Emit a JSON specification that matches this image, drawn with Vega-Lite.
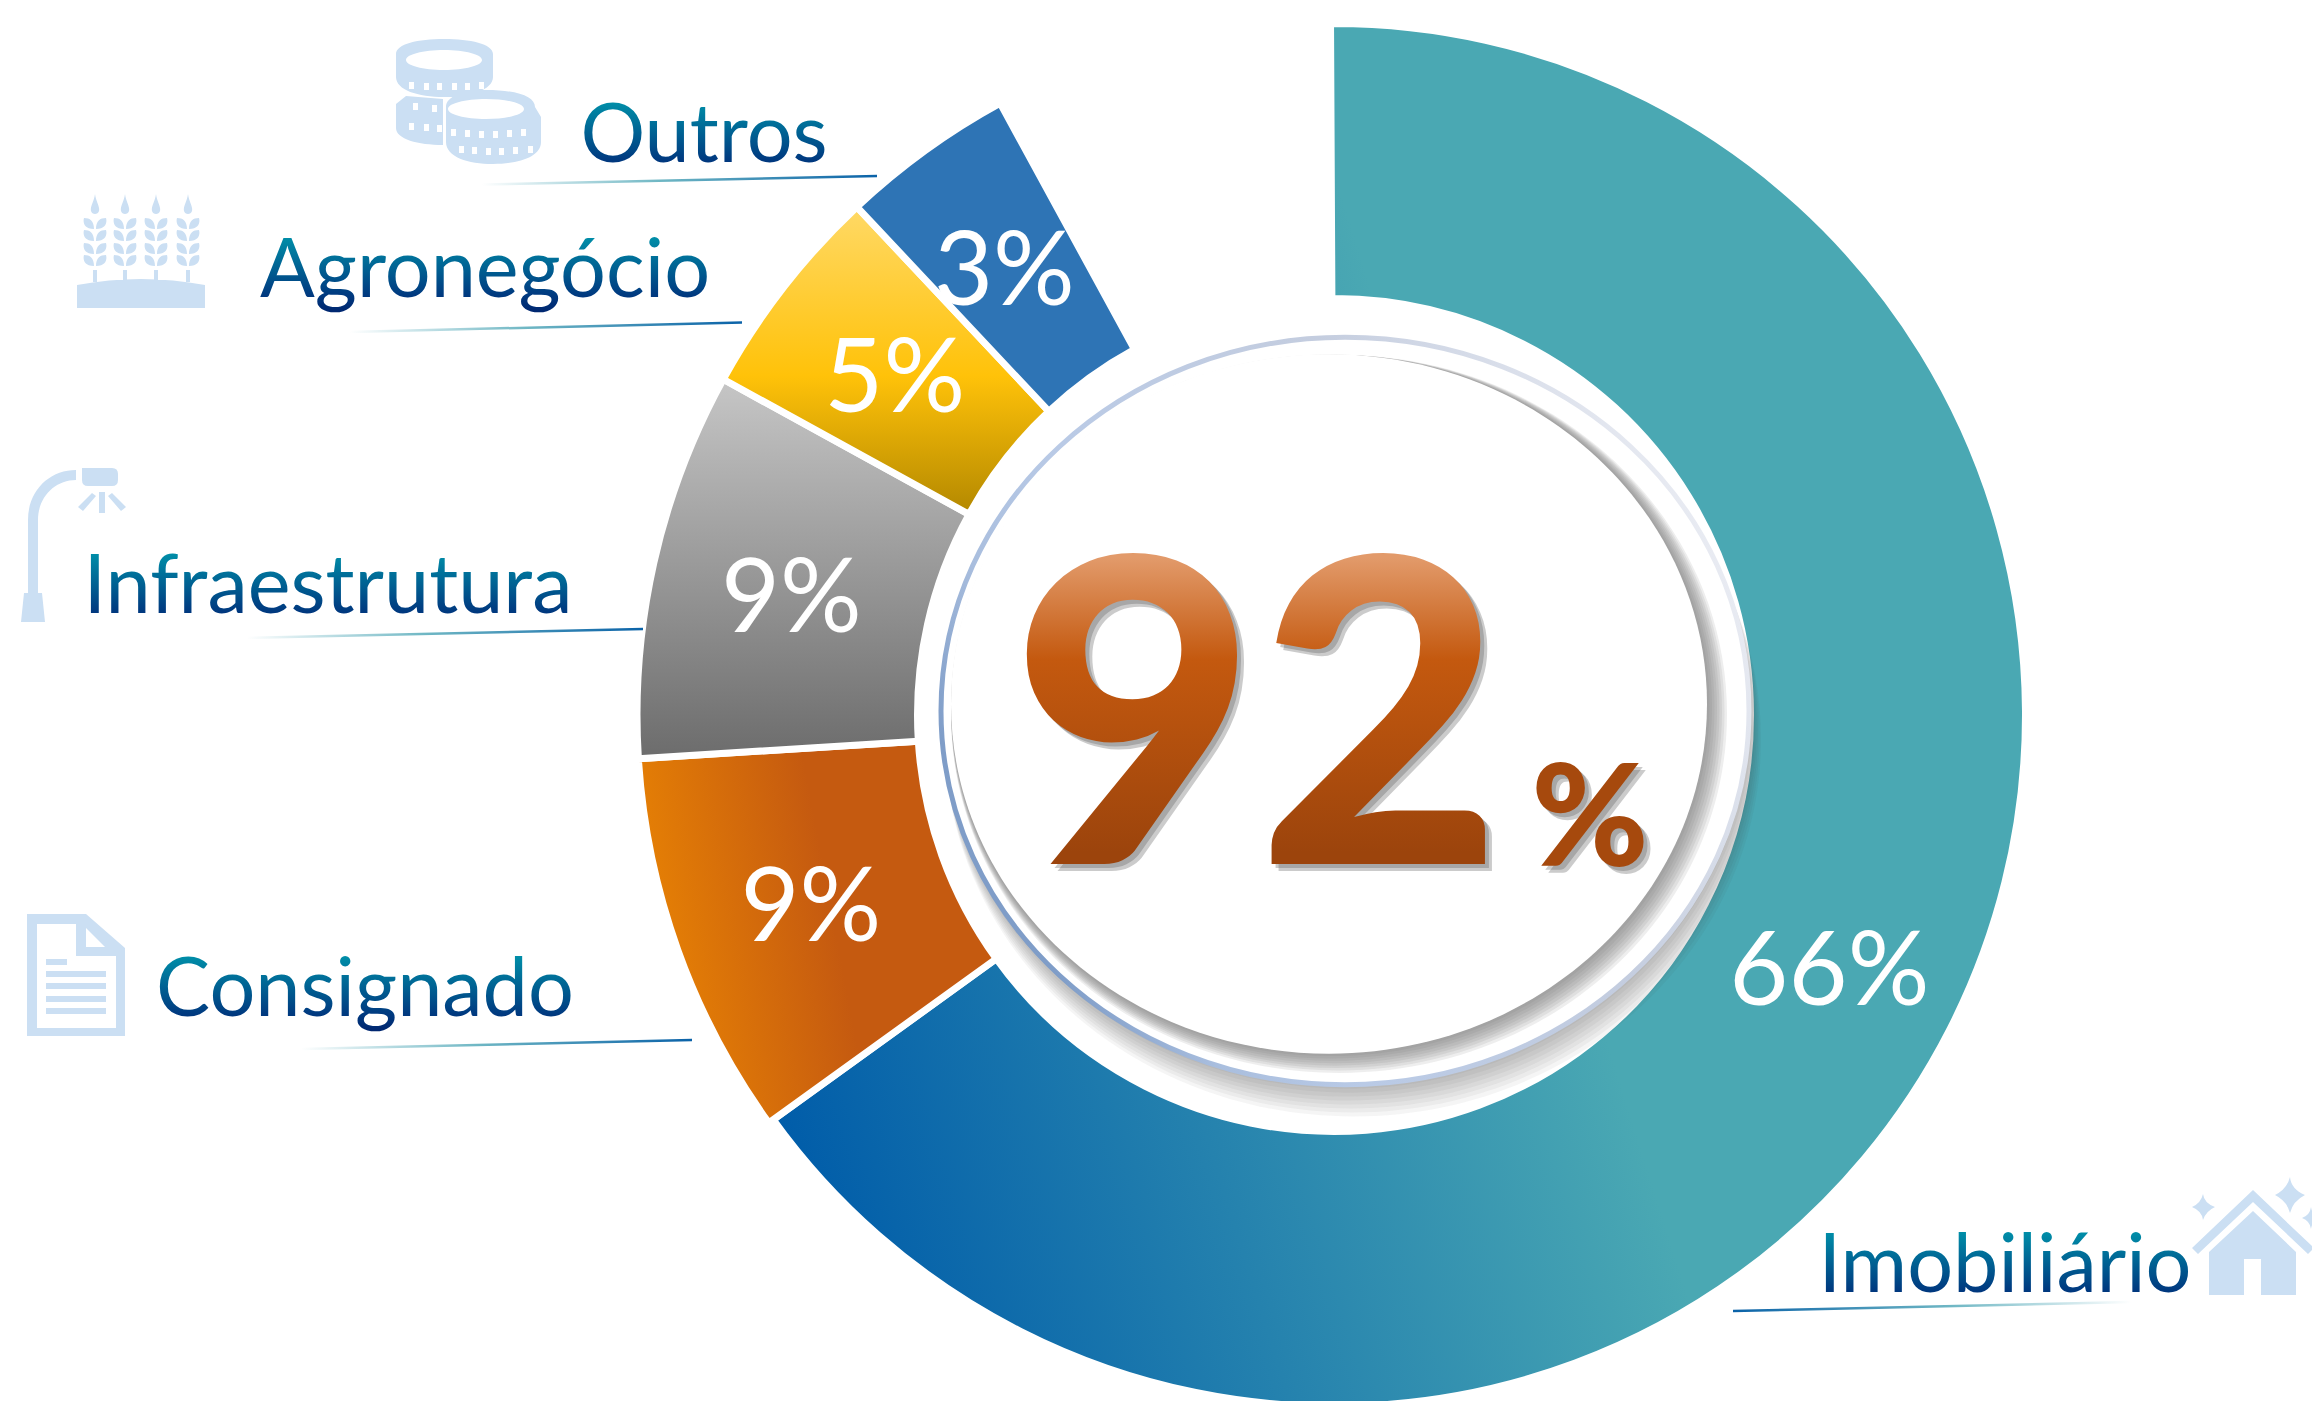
{
"$schema":"https://vega.github.io/schema/vega-lite/v6.json",
"autosize":{"type":"none"},
"width":1956,"height":1372,
"padding":{"left":356,"top":29,"right":0,"bottom":0},
"background":"white",
"view":{"stroke":null},
"datasets":{
"segments":[
{"category":"Imobiliário","label":"66%","order":5,"start":-0.08,"end":65.05,"mid":32.5},
{"category":"Consignado","label":"9%","order":4,"start":65.05,"end":74,"mid":69.5},
{"category":"Infraestrutura","label":"9%","order":3,"start":74,"end":83,"mid":78.5},
{"category":"Agronegócio","label":"5%","order":2,"start":83,"end":88,"mid":85.5},
{"category":"Outros","label":"3%","order":1,"start":88,"end":92.05,"mid":89.9}
],
"discs":[{"step":1},{"step":2},{"step":3},{"step":4},{"step":5},{"step":6},{"step":7},{"step":8},{"step":9},{"step":10},{"step":11},{"step":12},{"step":13},{"step":14},{"step":15},{"step":16},{"step":17},{"step":18}],
"total":[{"label":"92","slot":1},{"label":"%","slot":2}],
"leaders":[
{"category":"Outros","from":1,"to":11},
{"category":"Agronegócio","from":2,"to":12},
{"category":"Infraestrutura","from":3,"to":13},
{"category":"Consignado","from":4,"to":14}
],
"leaderRight":[{"category":"Imobiliário","from":5,"to":15}]
},
"layer":[
{"data":{"name":"segments"},
"encoding":{"theta":{"field":"start","type":"quantitative","scale":{"domain":[0,100],"range":[0,6.283185]}},"theta2":{"field":"end"}},
"layer":[
{"transform":[{"filter":"datum.order==5"}],"mark":{"type":"arc","innerRadius":416.5,"outerRadius":691.5,"stroke":"white","strokeWidth":7,"fill":{"gradient":"linear","x1":0,"y1":0.798,"x2":0.614,"y2":0.585,"stops":[{"offset":0,"color":"#005ca9"},{"offset":1,"color":"#4aa8b3"}]}}},
{"transform":[{"filter":"datum.order==4"}],"mark":{"type":"arc","innerRadius":416.5,"outerRadius":697,"stroke":"white","strokeWidth":7,"fill":{"gradient":"linear","x1":0,"y1":0.6,"x2":1,"y2":0.4,"stops":[{"offset":0,"color":"#ea8503"},{"offset":0.55,"color":"#c55a10"},{"offset":1,"color":"#c55a10"}]}}},
{"transform":[{"filter":"datum.order==3"}],"mark":{"type":"arc","innerRadius":416.5,"outerRadius":697,"stroke":"white","strokeWidth":7,"fill":{"gradient":"linear","x1":0,"y1":0,"x2":0,"y2":1,"stops":[{"offset":0,"color":"#c6c6c6"},{"offset":1,"color":"#6c6c6c"}]}}},
{"transform":[{"filter":"datum.order==2"}],"mark":{"type":"arc","innerRadius":416.5,"outerRadius":697,"stroke":"white","strokeWidth":7,"fill":{"gradient":"linear","x1":0,"y1":0,"x2":0,"y2":1,"stops":[{"offset":0,"color":"#ffd966"},{"offset":0.55,"color":"#ffc209"},{"offset":1,"color":"#b38800"}]}}},
{"transform":[{"filter":"datum.order==1"}],"mark":{"type":"arc","innerRadius":416.5,"outerRadius":697,"stroke":"white","strokeWidth":7,"fill":"#2e74b5"}}
]},
{"data":{"name":"segments"},"mark":{"type":"text","radius":556,"dy":7,"font":"Lato","fontWeight":400,"fontSize":102,"fill":"white","align":"center","baseline":"middle"},
"encoding":{"theta":{"field":"mid","type":"quantitative","scale":{"domain":[0,100],"range":[0,6.283185]}},"text":{"field":"label"}}},
{"data":{"name":"discs"},
"encoding":{
"x":{"field":"step","type":"quantitative","axis":null,"scale":{"domain":[1,2,3,4,5,6,7,8,9,10,11,12,13,14,15,16,17,18],"range":[997,996,995,994,993,992,991,990,989,983,981.75,980.5,979.25,978,976.75,975.5,974.25,973]}},
"y":{"field":"step","type":"quantitative","axis":null,"scale":{"domain":[1,2,3,4,5,6,7,8,9,10,11,12,13,14,15,16,17,18],"range":[710,706.5,703,699.5,696,692.5,689,685.5,682,685,683.75,682.5,681.25,680,678.75,677.5,676.25,675]}},
"size":{"field":"step","type":"quantitative","legend":null,"scale":{"domain":[1,2,3,4,5,6,7,8,9,10,11,12,13,14,15,16,17,18],"range":[665856,664225,662596,660969,659344,657721,656100,654481,652864,602176,598302,594441,590593,586756,582932,579121,575325,571536]}}
},
"layer":[
{"transform":[{"filter":"datum.step<=8"}],"mark":{"type":"point","filled":true,"shape":"M-1,0A1,0.925,0,1,1,1,0A1,0.925,0,1,1,-1,0Z","fill":"#444444","opacity":0.05}},
{"transform":[{"filter":"datum.step==9"}],"mark":{"type":"point","filled":true,"shape":"M-1,0A1,0.925,0,1,1,1,0A1,0.925,0,1,1,-1,0Z","fill":"white","opacity":1,"strokeWidth":5,"stroke":{"gradient":"linear","x1":1,"y1":0.3,"x2":0,"y2":0.75,"stops":[{"offset":0,"color":"#eceef4"},{"offset":0.33,"color":"#c4cddf"},{"offset":0.66,"color":"#b9cae6"},{"offset":0.8,"color":"#a9bede"},{"offset":0.92,"color":"#7f9dc8"},{"offset":1,"color":"#7f9dc8"}]}}},
{"transform":[{"filter":"datum.step>=10 && datum.step<=17"}],"mark":{"type":"point","filled":true,"shape":"M-1,0A1,0.925,0,1,1,1,0A1,0.925,0,1,1,-1,0Z","fill":"#777777","opacity":0.12}},
{"transform":[{"filter":"datum.step==18"}],"mark":{"type":"point","filled":true,"shape":"M-1,0A1,0.925,0,1,1,1,0A1,0.925,0,1,1,-1,0Z","fill":"white","opacity":1}}
]},
{"data":{"name":"total"},
"encoding":{
"x":{"field":"slot","type":"quantitative","axis":null,"scale":{"domain":[1,2],"range":[901,1234]}},
"y":{"field":"slot","type":"quantitative","axis":null,"scale":{"domain":[1,2],"range":[835,837]}},
"text":{"field":"label"},
"size":{"field":"slot","type":"quantitative","legend":null,"scale":{"domain":[1,2],"range":[424,142]}}
},
"layer":[
{"mark":{"type":"text","font":"Lato","fontWeight":900,"align":"center","baseline":"alphabetic","fill":"#555555","opacity":0.3,"dx":7,"dy":7}},
{"mark":{"type":"text","font":"Lato","fontWeight":900,"align":"center","baseline":"alphabetic","fill":"#555555","opacity":0.3,"dx":4,"dy":4}},
{"transform":[{"filter":"datum.slot==1"}],"mark":{"type":"text","font":"Lato","fontWeight":900,"align":"center","baseline":"alphabetic","fill":{"gradient":"linear","x1":0,"y1":0,"x2":0,"y2":1,"stops":[{"offset":0.22,"color":"#e29a6a"},{"offset":0.42,"color":"#c4590f"},{"offset":0.8,"color":"#9c440c"}]}}},
{"transform":[{"filter":"datum.slot==2"}],"mark":{"type":"text","font":"Lato","fontWeight":900,"align":"center","baseline":"alphabetic","fill":"#a6490d"}}
]},
{"data":{"name":"leaders"},"mark":{"type":"rule","strokeWidth":2.5,"stroke":{"gradient":"linear","x1":0,"y1":0,"x2":1,"y2":0,"stops":[{"offset":0,"color":"#ffffff"},{"offset":0.45,"color":"#6fb7c4"},{"offset":1,"color":"#0a62a8"}]}},
"encoding":{
"x":{"field":"from","type":"quantitative","axis":null,"scale":{"domain":[1,2,3,4,11,12,13,14],"range":[126,-6,-109,-55,521,386,287,336]}},
"x2":{"field":"to"},
"y":{"field":"from","type":"quantitative","axis":null,"scale":{"domain":[1,2,3,4,11,12,13,14],"range":[155.5,303,609,1020,147,293.5,600,1011]}},
"y2":{"field":"to"}
}},
{"data":{"name":"leaderRight"},"mark":{"type":"rule","strokeWidth":2.5,"stroke":{"gradient":"linear","x1":0,"y1":0,"x2":1,"y2":0,"stops":[{"offset":0,"color":"#0a62a8"},{"offset":0.55,"color":"#6fb7c4"},{"offset":1,"color":"#ffffff"}]}},
"encoding":{
"x":{"field":"from","type":"quantitative","axis":null,"scale":{"domain":[5,15],"range":[1377,1775]}},
"x2":{"field":"to"},
"y":{"field":"from","type":"quantitative","axis":null,"scale":{"domain":[5,15],"range":[1282,1273]}},
"y2":{"field":"to"}
}},
{"data":{"name":"segments"},"mark":{"type":"point","filled":true,"size":4,"fill":"#cbdff3","opacity":1},
"encoding":{
"x":{"field":"order","type":"quantitative","axis":null,"scale":{"domain":[1,2,3,4,5],"range":[112,-215,-282,-280,1897]}},
"y":{"field":"order","type":"quantitative","axis":null,"scale":{"domain":[1,2,3,4,5],"range":[73,222,516,946,1211]}},
"shape":{"field":"category","type":"nominal","legend":null,"scale":{"domain":["Outros","Agronegócio","Infraestrutura","Consignado","Imobiliário"],"range":[
"M-72,-48C-72,-58 -50,-63 -24,-63C2,-63 25,-58 25,-48L25,-25C25,-12 2,-5 -24,-5C-50,-5 -72,-12 -72,-25ZM-62,-42A38,10 0 1 0 14,-42A38,10 0 1 0 -62,-42ZM-59,-20v7h5v-7zM-44,-19v7h5v-7zM-31,-19v7h5v-7zM-16,-19v7h5v-7zM-3,-19v7h5v-7zM11,-20v7h5v-7zM-72,2L-62,-6L-25,-3L-25,43C-50,43 -72,37 -72,26ZM-59,21v7h5v-7zM-44,22v7h5v-7zM-31,23v7h5v-7zM-55,1v7h5v-7zM-36,3v7h5v-7zM-22,5C-22,-6 -4,-12 18,-12C50,-12 67,-5 67,5L73,15L73,40C73,55 50,62 25,62C0,62 -22,55 -22,40ZM-20,7A38,10 0 1 0 56,7A38,10 0 1 0 -20,7ZM-17,27v7h5v-7zM-3,28v7h5v-7zM11,29v7h5v-7zM25,29v7h5v-7zM39,28v7h5v-7zM53,27v7h5v-7zM-9,44v7h5v-7zM4,45v7h5v-7zM18,46v7h5v-7zM31,46v7h5v-7zM45,45v7h5v-7zM60,44v7h5v-7z",
"M-64,34Q0,22 64,34L64,57L-64,57ZM-48,19h4v12h-4zM-18,19h4v12h-4zM13,19h4v12h-4zM45,19h4v12h-4zM-46,-57c1,8 5,12 4,17c-1,4 -7,4 -8,0c-1,-5 3,-9 4,-17zM-16,-57c1,8 5,12 4,17c-1,4 -7,4 -8,0c-1,-5 3,-9 4,-17zM15,-57c1,8 5,12 4,17c-1,4 -7,4 -8,0c-1,-5 3,-9 4,-17zM47,-57c1,8 5,12 4,17c-1,4 -7,4 -8,0c-1,-5 3,-9 4,-17zM-47,15c-11,0 -11,-8 -10,-11c6,0 10,3 10,11zM-47,3c-11,0 -11,-8 -10,-11c6,0 10,3 10,11zM-47,-10c-11,0 -11,-8 -10,-11c6,0 10,3 10,11zM-47,-22c-11,0 -11,-8 -10,-11c6,0 10,3 10,11zM-45,15c0,-8 4,-11 10,-11c1,3 1,11 -10,11zM-45,3c0,-8 4,-11 10,-11c1,3 1,11 -10,11zM-45,-10c0,-8 4,-11 10,-11c1,3 1,11 -10,11zM-45,-22c0,-8 4,-11 10,-11c1,3 1,11 -10,11zM-17,15c-11,0 -11,-8 -10,-11c6,0 10,3 10,11zM-17,3c-11,0 -11,-8 -10,-11c6,0 10,3 10,11zM-17,-10c-11,0 -11,-8 -10,-11c6,0 10,3 10,11zM-17,-22c-11,0 -11,-8 -10,-11c6,0 10,3 10,11zM-15,15c0,-8 4,-11 10,-11c1,3 1,11 -10,11zM-15,3c0,-8 4,-11 10,-11c1,3 1,11 -10,11zM-15,-10c0,-8 4,-11 10,-11c1,3 1,11 -10,11zM-15,-22c0,-8 4,-11 10,-11c1,3 1,11 -10,11zM14,15c-11,0 -11,-8 -10,-11c6,0 10,3 10,11zM14,3c-11,0 -11,-8 -10,-11c6,0 10,3 10,11zM14,-10c-11,0 -11,-8 -10,-11c6,0 10,3 10,11zM14,-22c-11,0 -11,-8 -10,-11c6,0 10,3 10,11zM16,15c0,-8 4,-11 10,-11c1,3 1,11 -10,11zM16,3c0,-8 4,-11 10,-11c1,3 1,11 -10,11zM16,-10c0,-8 4,-11 10,-11c1,3 1,11 -10,11zM16,-22c0,-8 4,-11 10,-11c1,3 1,11 -10,11zM46,15c-11,0 -11,-8 -10,-11c6,0 10,3 10,11zM46,3c-11,0 -11,-8 -10,-11c6,0 10,3 10,11zM46,-10c-11,0 -11,-8 -10,-11c6,0 10,3 10,11zM46,-22c-11,0 -11,-8 -10,-11c6,0 10,3 10,11zM48,15c0,-8 4,-11 10,-11c1,3 1,11 -10,11zM48,3c0,-8 4,-11 10,-11c1,3 1,11 -10,11zM48,-10c0,-8 4,-11 10,-11c1,3 1,11 -10,11zM48,-22c0,-8 4,-11 10,-11c1,3 1,11 -10,11z",
"M-46,48L-46,-25C-46,-55 -24,-75 2,-75L2,-65C-19,-65 -36,-48 -36,-25L-36,48ZM-53,77L-50,48L-32,48L-29,77ZM8,-77H38Q44,-77 44,-71V-65Q44,-59 38,-59H14Q8,-59 8,-65ZM25,-53H31V-32H25ZM18,-52L22,-49L9,-34L4,-38ZM38,-52L52,-38L47,-34L34,-49Z",
"M-49,-61L10,-61L49,-27L49,61L-49,61ZM-39,-51L-39,53L40,53L40,-19L0,-19L0,-51ZM10,-47L10,-28L29,-28ZM-30,-4h60v6h-60zM-30,8h60v6h-60zM-30,21h60v6h-60zM-30,33h60v6h-60zM-30,-16h21v6h-21z",
"M0,-50L61,8L55,14L0,-38L-55,14L-61,8ZM0,-29L43,12L43,55L8,55L8,19L-9,19L-9,55L-44,55L-44,12ZM-50,-46Q-49,-37 -38,-33Q-47,-29 -50,-20Q-51,-29 -61,-33Q-52,-37 -50,-46ZM37,-63Q38,-51 52,-45Q40,-39 37,-27Q34,-39 22,-45Q34,-51 37,-63ZM58,-33Q59,-25 67,-22Q59,-19 58,-11Q57,-19 49,-22Q57,-25 58,-33Z"
]}}
}},
{"data":{"name":"segments"},"mark":{"type":"text","font":"Lato","fontWeight":400,"fontSize":81,"align":"center","baseline":"alphabetic","fill":{"gradient":"linear","x1":0,"y1":0,"x2":0,"y2":1,"stops":[{"offset":0.18,"color":"#0092aa"},{"offset":0.8,"color":"#003a80"},{"offset":1,"color":"#00246e"}]}},
"encoding":{
"x":{"field":"order","type":"quantitative","axis":null,"scale":{"domain":[1,2,3,4,5],"range":[348,129,-28,9,1649]}},
"y":{"field":"order","type":"quantitative","axis":null,"scale":{"domain":[1,2,3,4,5],"range":[133,268,584,987,1263]}},
"text":{"field":"category"}
}}
],
"resolve":{"scale":{"x":"independent","y":"independent","size":"independent"}}
}
